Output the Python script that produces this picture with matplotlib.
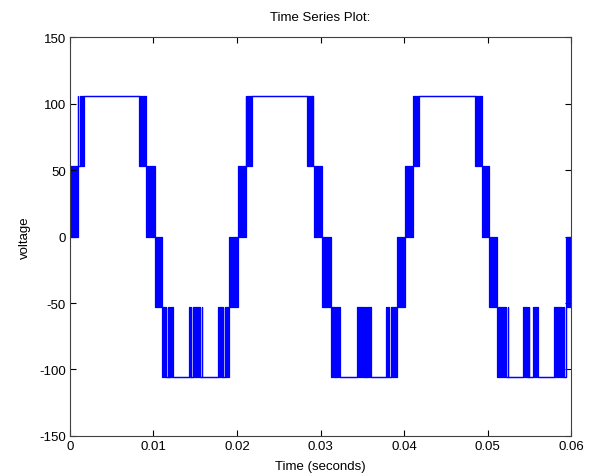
import matplotlib
matplotlib.use('Agg')
import matplotlib.pyplot as plt
import numpy as np

# Stepped PWM waveform.
# Each segment starts at t_start and runs to the next one (last runs to 0.06).
# Inside a segment the voltage switches fast between lo and hi, so it shows
# as a solid band; lo == hi means a flat level.
t_start = [
    0.00000, 0.00092, 0.00096, 0.00102, 0.00116, 0.00171, 0.00830, 0.00910,
    0.01018, 0.01098, 0.01150, 0.01170, 0.01174, 0.01186, 0.01189, 0.01198,
    0.01237, 0.01429, 0.01432, 0.01445, 0.01449, 0.01477, 0.01557, 0.01575,
    0.01578, 0.01769, 0.01817, 0.01832, 0.01836, 0.01856, 0.01910, 0.02016,
    0.02104, 0.02110, 0.02123, 0.02183, 0.02842, 0.02894, 0.02904, 0.02910,
    0.02926, 0.03014, 0.03120, 0.03174, 0.03186, 0.03234, 0.03441, 0.03521,
    0.03533, 0.03539, 0.03560, 0.03601, 0.03788, 0.03791, 0.03812, 0.03816,
    0.03844, 0.03920, 0.04012, 0.04108, 0.04183, 0.04850, 0.04931, 0.05020,
    0.05114, 0.05222, 0.05240, 0.05246, 0.05429, 0.05467, 0.05480, 0.05483,
    0.05497, 0.05501, 0.05541, 0.05601, 0.05796, 0.05888, 0.05908, 0.05913,
    0.05937,
]
lo = [
    0, 53, 53, 53, 53, 106, 53, 0,
    -53, -106, -106, -106, -106, -106, -106, -106,
    -106, -106, -106, -106, -106, -106, -106, -106,
    -106, -106, -106, -106, -106, -106, -53, 0,
    53, 53, 53, 106, 53, 106, 53, 53,
    0, -53, -106, -106, -106, -106, -106, -106,
    -106, -106, -106, -106, -106, -106, -106, -106,
    -106, -53, 0, 53, 106, 53, 0, -53,
    -106, -106, -106, -106, -106, -106, -106, -106,
    -106, -106, -106, -106, -106, -106, -106, -106,
    -53,
]
hi = [
    53, 53, 106, 53, 106, 106, 106, 53,
    0, -53, -106, -53, -106, -53, -106, -53,
    -106, -53, -106, -53, -106, -53, -106, -53,
    -106, -53, -106, -53, -106, -53, 0, 53,
    106, 53, 106, 106, 106, 106, 106, 53,
    53, 0, -53, -106, -53, -106, -53, -106,
    -53, -106, -53, -106, -53, -106, -53, -106,
    -53, 0, 53, 106, 106, 106, 53, 0,
    -53, -106, -53, -106, -53, -106, -53, -106,
    -53, -106, -53, -106, -53, -106, -53, -106,
    0,
]
t_end = 0.06

t = np.array(t_start + [t_end])
lo_s = np.array(lo + [lo[-1]])
hi_s = np.array(hi + [hi[-1]])

plt.rcParams['font.family'] = ['Liberation Sans', 'DejaVu Sans']
plt.rcParams['font.size'] = 9.5
plt.rcParams['axes.unicode_minus'] = False

fig = plt.figure(figsize=(5.98, 4.77), dpi=100)
ax = fig.add_axes([0.117, 0.084, 0.838, 0.836])

ax.fill_between(t, lo_s, hi_s, step='post', color='#0000ff', lw=0)
ax.plot(t, hi_s, drawstyle='steps-post', color='#0000ff', lw=0.9)
ax.plot(t, lo_s, drawstyle='steps-post', color='#0000ff', lw=0.9)

ax.set_xlim(0, 0.06)
ax.set_ylim(-150, 150)
ax.set_xticks([0, 0.01, 0.02, 0.03, 0.04, 0.05, 0.06])
ax.set_xticklabels(['0', '0.01', '0.02', '0.03', '0.04', '0.05', '0.06'])
ax.set_yticks([-150, -100, -50, 0, 50, 100, 150])
ax.tick_params(direction='in', top=True, right=True, length=4, width=0.8, pad=3)
for s in ax.spines.values():
    s.set_color('#404040')
    s.set_linewidth(0.8)

ax.set_title('Time Series Plot:', fontsize=9.5, pad=12)
ax.set_xlabel('Time (seconds)', labelpad=6)
ax.set_ylabel('voltage', labelpad=6)

fig.savefig('out.png', dpi=100)
